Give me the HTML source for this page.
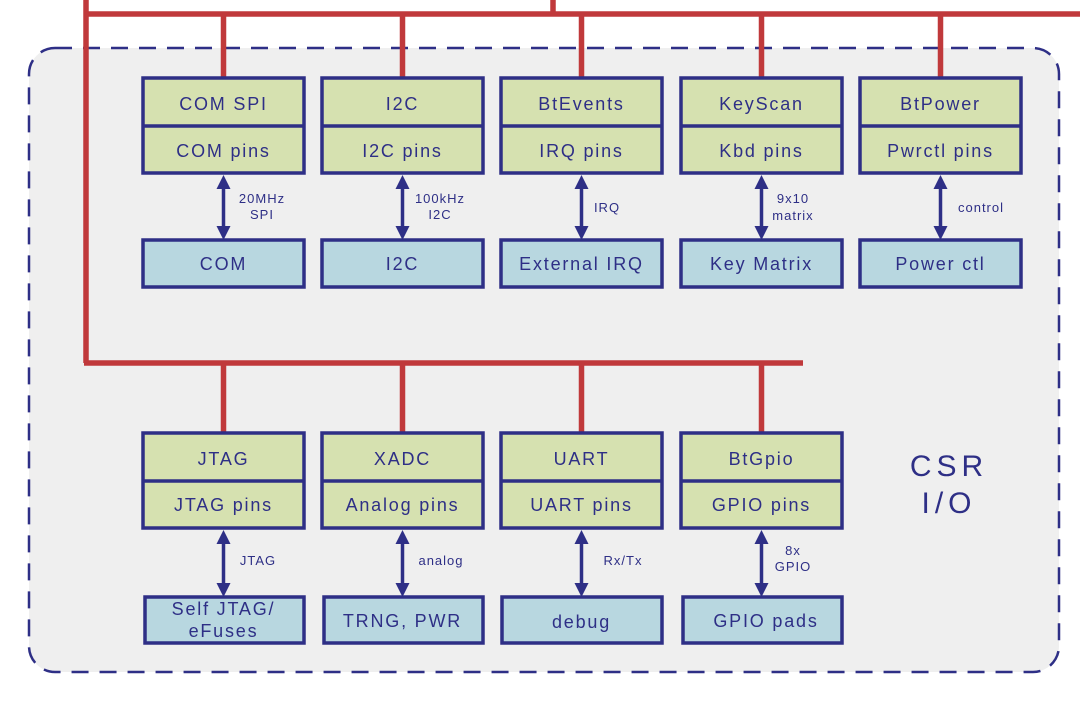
<!DOCTYPE html>
<html><head><meta charset="utf-8"><style>
html,body{margin:0;padding:0;background:#fff;}
svg{display:block;}
text{font-family:"Liberation Sans","DejaVu Sans",sans-serif;fill:#2e2f86;}
.t{font-size:18px;letter-spacing:1.8px;text-anchor:middle;}
.s{font-size:13px;letter-spacing:1px;text-anchor:middle;}
.g{fill:#d6e1b0;stroke:#2e2f86;stroke-width:3.5;}
.b{fill:#b8d7e0;stroke:#2e2f86;stroke-width:3.5;}
.r{stroke:#c0393b;stroke-width:5.5;fill:none;}
.a{stroke:#2e2f86;stroke-width:3.5;}
.h{fill:#2e2f86;}
</style></head><body>
<svg width="1080" height="703" viewBox="0 0 1080 703" xmlns="http://www.w3.org/2000/svg">
<rect x="29" y="48" width="1030" height="624" rx="26" fill="#efefef" stroke="#2e2f86" stroke-width="2.5" stroke-dasharray="17,11"/>
<path class="r" d="M86 0 V363 M86 14 H1080 M553 0 V14 M84 363 H803"/>
<path class="r" d="M223.5 14V78 M402.5 14V78 M581.5 14V78 M761.5 14V78 M940.5 14V78"/>
<path class="r" d="M223.5 363V433 M402.5 363V433 M581.5 363V433 M761.5 363V433"/>

<g>
<rect class="g" x="143" y="78" width="161" height="95"/><line class="a" x1="143" y1="126" x2="304" y2="126"/>
<rect class="b" x="143" y="240" width="161" height="47"/>
<text class="t" x="223.5" y="110">COM SPI</text><text class="t" x="223.5" y="157">COM pins</text><text class="t" x="223.5" y="270">COM</text>
<line class="a" x1="223.5" y1="185" x2="223.5" y2="230"/><path class="h" d="M223.5 175 l-7 14 h14z M223.5 240 l-7 -14 h14z"/>
<text class="s" x="262" y="203">20MHz</text><text class="s" x="262" y="219">SPI</text>
</g>
<g>
<rect class="g" x="322" y="78" width="161" height="95"/><line class="a" x1="322" y1="126" x2="483" y2="126"/>
<rect class="b" x="322" y="240" width="161" height="47"/>
<text class="t" x="402.5" y="110">I2C</text><text class="t" x="402.5" y="157">I2C pins</text><text class="t" x="402.5" y="270">I2C</text>
<line class="a" x1="402.5" y1="185" x2="402.5" y2="230"/><path class="h" d="M402.5 175 l-7 14 h14z M402.5 240 l-7 -14 h14z"/>
<text class="s" x="440" y="203">100kHz</text><text class="s" x="440" y="219">I2C</text>
</g>
<g>
<rect class="g" x="501" y="78" width="161" height="95"/><line class="a" x1="501" y1="126" x2="662" y2="126"/>
<rect class="b" x="501" y="240" width="161" height="47"/>
<text class="t" x="581.5" y="110">BtEvents</text><text class="t" x="581.5" y="157">IRQ pins</text><text class="t" x="581.5" y="270">External IRQ</text>
<line class="a" x1="581.5" y1="185" x2="581.5" y2="230"/><path class="h" d="M581.5 175 l-7 14 h14z M581.5 240 l-7 -14 h14z"/>
<text class="s" x="607" y="212">IRQ</text>
</g>
<g>
<rect class="g" x="681" y="78" width="161" height="95"/><line class="a" x1="681" y1="126" x2="842" y2="126"/>
<rect class="b" x="681" y="240" width="161" height="47"/>
<text class="t" x="761.5" y="110">KeyScan</text><text class="t" x="761.5" y="157">Kbd pins</text><text class="t" x="761.5" y="270">Key Matrix</text>
<line class="a" x1="761.5" y1="185" x2="761.5" y2="230"/><path class="h" d="M761.5 175 l-7 14 h14z M761.5 240 l-7 -14 h14z"/>
<text class="s" x="793" y="203">9x10</text><text class="s" x="793" y="220">matrix</text>
</g>
<g>
<rect class="g" x="860" y="78" width="161" height="95"/><line class="a" x1="860" y1="126" x2="1021" y2="126"/>
<rect class="b" x="860" y="240" width="161" height="47"/>
<text class="t" x="940.5" y="110">BtPower</text><text class="t" x="940.5" y="157">Pwrctl pins</text><text class="t" x="940.5" y="270">Power ctl</text>
<line class="a" x1="940.5" y1="185" x2="940.5" y2="230"/><path class="h" d="M940.5 175 l-7 14 h14z M940.5 240 l-7 -14 h14z"/>
<text class="s" x="981" y="212">control</text>
</g>

<g>
<rect class="g" x="143" y="433" width="161" height="95"/><line class="a" x1="143" y1="481" x2="304" y2="481"/>
<rect class="b" x="145" y="597" width="159" height="46"/>
<text class="t" x="223.5" y="465">JTAG</text><text class="t" x="223.5" y="511">JTAG pins</text>
<text class="t" x="223.5" y="615">Self JTAG/</text><text class="t" x="223.5" y="637">eFuses</text>
<line class="a" x1="223.5" y1="540" x2="223.5" y2="587"/><path class="h" d="M223.5 530 l-7 14 h14z M223.5 597 l-7 -14 h14z"/>
<text class="s" x="258" y="565">JTAG</text>
</g>
<g>
<rect class="g" x="322" y="433" width="161" height="95"/><line class="a" x1="322" y1="481" x2="483" y2="481"/>
<rect class="b" x="324" y="597" width="159" height="46"/>
<text class="t" x="402.5" y="465">XADC</text><text class="t" x="402.5" y="511">Analog pins</text><text class="t" x="402.5" y="627">TRNG, PWR</text>
<line class="a" x1="402.5" y1="540" x2="402.5" y2="587"/><path class="h" d="M402.5 530 l-7 14 h14z M402.5 597 l-7 -14 h14z"/>
<text class="s" x="441" y="565">analog</text>
</g>
<g>
<rect class="g" x="501" y="433" width="161" height="95"/><line class="a" x1="501" y1="481" x2="662" y2="481"/>
<rect class="b" x="502" y="597" width="160" height="46"/>
<text class="t" x="581.5" y="465">UART</text><text class="t" x="581.5" y="511">UART pins</text><text class="t" x="581.5" y="628">debug</text>
<line class="a" x1="581.5" y1="540" x2="581.5" y2="587"/><path class="h" d="M581.5 530 l-7 14 h14z M581.5 597 l-7 -14 h14z"/>
<text class="s" x="623" y="565">Rx/Tx</text>
</g>
<g>
<rect class="g" x="681" y="433" width="161" height="95"/><line class="a" x1="681" y1="481" x2="842" y2="481"/>
<rect class="b" x="683" y="597" width="159" height="46"/>
<text class="t" x="761.5" y="465">BtGpio</text><text class="t" x="761.5" y="511">GPIO pins</text><text class="t" x="766" y="627">GPIO pads</text>
<line class="a" x1="761.5" y1="540" x2="761.5" y2="587"/><path class="h" d="M761.5 530 l-7 14 h14z M761.5 597 l-7 -14 h14z"/>
<text class="s" x="793" y="555">8x</text><text class="s" x="793" y="571">GPIO</text>
</g>

<text x="949" y="476" style="font-size:30px;letter-spacing:5px;text-anchor:middle;">CSR</text>
<text x="949" y="513" style="font-size:30px;letter-spacing:5px;text-anchor:middle;">I/O</text>
</svg>
</body></html>
